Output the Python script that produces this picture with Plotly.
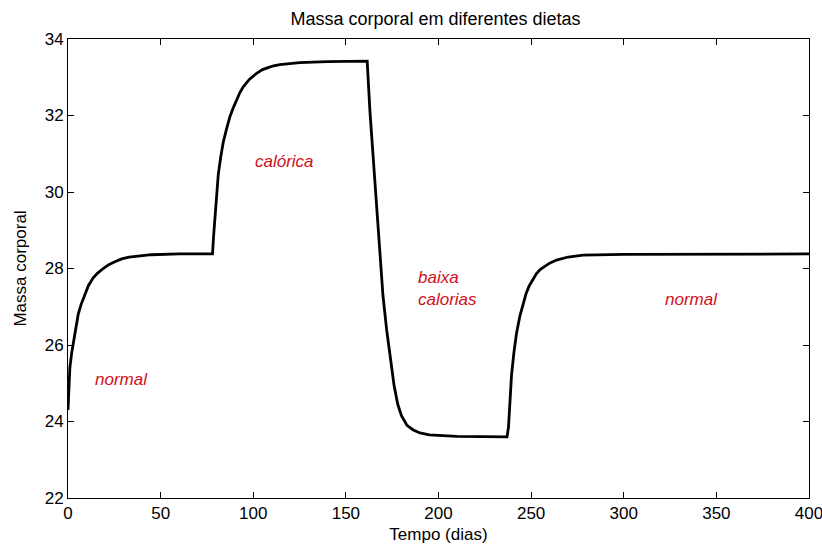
import plotly.graph_objects as go

# Tempo (dias) e massa corporal
tempo = [0, 0.5, 1, 2, 3, 4, 5.5, 7, 9, 11, 13.5, 16, 19, 22, 25, 29, 33, 39, 45, 60, 78,
         78.6, 79.3, 80.2, 81.1, 82.4, 83.8, 85.6, 87.4, 89.2, 91, 92.8, 94.6, 98, 101.8, 105, 108, 111, 114.4, 120, 125, 140, 161.5,
         163.0, 164.8, 166.6, 168.4, 170, 172, 174, 176, 178, 180, 183, 186.4, 190, 195, 210, 237,
         237.8, 238.6, 239.4, 240.7, 242.1, 243.9, 245.7, 247.3, 249, 251, 252.9, 255, 257, 260, 263.7, 267, 270, 278, 300, 400]
massa = [24.3, 24.95, 25.4, 25.8, 26.1, 26.45, 26.8, 27.05, 27.3, 27.55, 27.75, 27.88, 28.0, 28.1, 28.17, 28.25, 28.3, 28.34, 28.36, 28.38, 28.38,
         28.85, 29.35, 29.95, 30.45, 30.9, 31.3, 31.65, 31.97, 32.2, 32.4, 32.6, 32.75, 32.95, 33.1, 33.2, 33.25, 33.3, 33.33, 33.36, 33.38, 33.41, 33.42,
         32.1, 30.8, 29.5, 28.3, 27.3, 26.4, 25.6, 24.95, 24.45, 24.15, 23.9, 23.78, 23.7, 23.65, 23.61, 23.6,
         23.86, 24.55, 25.2, 25.8, 26.3, 26.75, 27.09, 27.35, 27.55, 27.73, 27.87, 27.98, 28.05, 28.14, 28.22, 28.27, 28.3, 28.35, 28.37, 28.38]

rotulos = ["normal", "calórica", "baixa<br>calorias", "normal"]
rotulo_x = [13.5, 100, 188, 321]
rotulo_y = [25.1, 30.8, 27.48, 27.2]

x_ticks = [0, 50, 100, 150, 200, 250, 300, 350, 400]
y_ticks = [22, 24, 26, 28, 30, 32, 34]

FONT = "Liberation Sans, Arial"

fig = go.Figure()
fig.add_trace(go.Scatter(x=tempo, y=massa, mode="lines",
                         line=dict(color="black", width=2.8),
                         showlegend=False, hoverinfo="skip"))

for txt, xx, yy in zip(rotulos, rotulo_x, rotulo_y):
    fig.add_annotation(x=xx, y=yy, text="<i>" + txt + "</i>", showarrow=False,
                       xanchor="left", yanchor="middle", align="left",
                       font=dict(family=FONT, size=17, color="#d0101a"))

axis_common = dict(showline=True, linecolor="black", linewidth=1, mirror="ticks",
                   ticks="inside", ticklen=6, tickcolor="black", showgrid=False,
                   zeroline=False, automargin=False, ticklabeloverflow="allow",
                   tickfont=dict(family=FONT, size=17, color="black"))

fig.update_xaxes(range=[0, 400], tickvals=x_ticks,
                 title=dict(text="Tempo (dias)", standoff=5,
                            font=dict(family=FONT, size=17, color="black")),
                 **axis_common)
fig.update_yaxes(range=[22, 34], tickvals=y_ticks,
                 title=dict(text="Massa corporal", standoff=13,
                            font=dict(family=FONT, size=17, color="black")),
                 **axis_common)

fig.update_layout(
    width=822, height=550,
    margin=dict(l=68, r=13, t=39, b=52),
    paper_bgcolor="white", plot_bgcolor="white",
    title=dict(text="Massa corporal em diferentes dietas", x=435.5 / 822, xanchor="center",
               y=1 - 19 / 550, yanchor="middle",
               font=dict(family=FONT, size=18, color="black")),
)

fig.write_html(
    "out.html",
    config={"displayModeBar": False},
    post_script=(
        "document.documentElement.style.margin='0';"
        "document.documentElement.style.padding='0';"
        "document.documentElement.style.overflow='hidden';"
        "document.body.style.margin='0';"
        "document.body.style.padding='0';"
        "document.body.style.overflow='hidden';"
    ),
)
